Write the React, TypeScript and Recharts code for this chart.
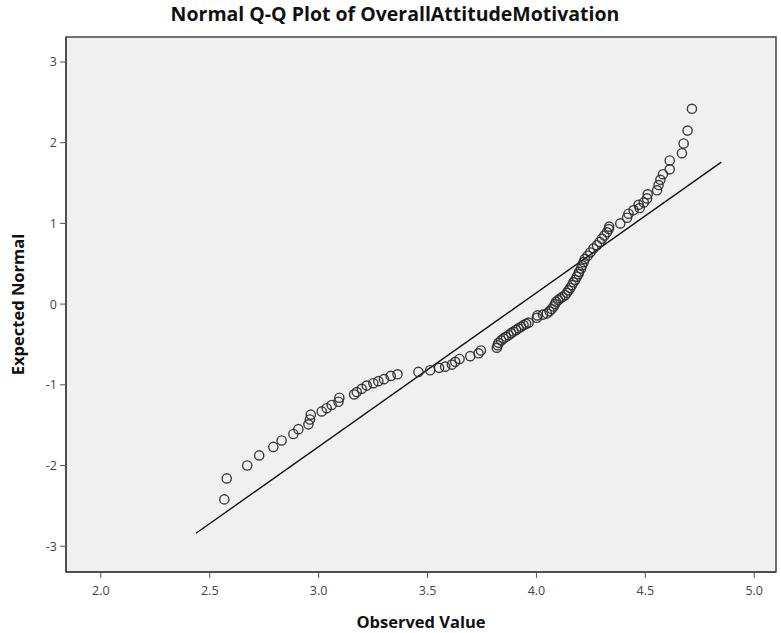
import React from "react";
import {
  ScatterChart,
  Scatter,
  XAxis,
  YAxis,
  ReferenceArea,
  ReferenceLine,
} from "recharts";

const chartTitle = "Normal Q-Q Plot of OverallAttitudeMotivation";
const xAxisLabel = "Observed Value";
const yAxisLabel = "Expected Normal";

const xTicks = [2.0, 2.5, 3.0, 3.5, 4.0, 4.5, 5.0];
const yTicks = [-3, -2, -1, 0, 1, 2, 3];
const xDomain = [1.84, 5.1];
const yDomain = [-3.32, 3.31];

const observed = [
  2.567, 2.578, 2.672, 2.727, 2.792, 2.83, 2.884, 2.907, 2.953, 2.96, 2.964,
  3.014, 3.037, 3.06, 3.091, 3.095, 3.163, 3.175, 3.198, 3.221, 3.251, 3.274,
  3.3, 3.331, 3.362, 3.458, 3.512, 3.553, 3.581, 3.612, 3.627, 3.647, 3.696,
  3.734, 3.745,
  3.818, 3.822, 3.826, 3.838, 3.849, 3.86, 3.872, 3.884, 3.895, 3.907, 3.918,
  3.93, 3.941, 3.953, 3.964, 4.002, 4.005, 4.03, 4.048, 4.06, 4.07, 4.079,
  4.086, 4.09, 4.1, 4.109, 4.12, 4.132, 4.14, 4.147, 4.155, 4.163, 4.17,
  4.178, 4.185, 4.193, 4.196, 4.205, 4.21, 4.217, 4.222, 4.235, 4.247, 4.262,
  4.278, 4.29, 4.301, 4.312, 4.324, 4.332, 4.334,
  4.385, 4.416, 4.423, 4.446, 4.474, 4.469, 4.493, 4.508, 4.511, 4.554,
  4.561, 4.569, 4.581, 4.612, 4.612, 4.668, 4.676, 4.694, 4.714,
];

// expected normal values (y)
const expected = [
  -2.42, -2.16, -2.0, -1.875, -1.77, -1.69, -1.61, -1.55, -1.49, -1.43, -1.37,
  -1.33, -1.29, -1.25, -1.21, -1.16, -1.12, -1.09, -1.05, -1.01, -0.98, -0.955,
  -0.93, -0.89, -0.87, -0.84, -0.82, -0.79, -0.775, -0.75, -0.715, -0.68,
  -0.645, -0.61, -0.575,
  -0.54, -0.51, -0.48, -0.45, -0.425, -0.405, -0.385, -0.36, -0.34, -0.32,
  -0.3, -0.28, -0.26, -0.245, -0.23, -0.17, -0.14, -0.13, -0.115, -0.09,
  -0.06, -0.03, 0.0, 0.03, 0.05, 0.07, 0.09, 0.11, 0.14, 0.17, 0.2, 0.235,
  0.27, 0.3, 0.34, 0.37, 0.4, 0.44, 0.48, 0.52, 0.56, 0.6, 0.64, 0.69, 0.73,
  0.77, 0.81, 0.85, 0.89, 0.93, 0.96,
  1.0, 1.07, 1.12, 1.165, 1.19, 1.23, 1.26, 1.31, 1.36, 1.41, 1.475, 1.54,
  1.61, 1.67, 1.78, 1.87, 1.99, 2.15, 2.42,
];

// reference line endpoints (observed, expected)
const lineX = [2.437, 4.849];
const lineY = [-2.84, 1.76];

const points = observed.map((x, i) => ({ x, y: expected[i] }));

const FONT = "'Open Sans', 'DejaVu Sans', sans-serif";

const Ring = (props: any) => {
  const { cx, cy } = props;
  if (cx == null || cy == null) return null;
  return (
    <circle
      cx={cx}
      cy={cy}
      r={4.6}
      fill="none"
      stroke="#2a2a2a"
      strokeWidth={1.4}
      strokeOpacity={0.9}
    />
  );
};

export default function App() {
  return (
    <div
      style={{
        position: "absolute",
        left: 0,
        top: 0,
        width: 781,
        height: 633,
        background: "#fff",
        fontFamily: FONT,
      }}
    >
      <ScatterChart
        width={781}
        height={633}
        margin={{ top: 37, right: 5, bottom: 0, left: 0 }}
      >
        <text
          x={395}
          y={21}
          textAnchor="middle"
          fontFamily={FONT}
          fontWeight="bold"
          fontSize={19.5}
          fill="#111"
        >
          {chartTitle}
        </text>
        <ReferenceArea
          x1={xDomain[0]}
          x2={xDomain[1]}
          y1={yDomain[0]}
          y2={yDomain[1]}
          fill="#f0f0f0"
          fillOpacity={1}
          stroke="#444"
          strokeWidth={1.5}
          ifOverflow="extendDomain"
        />
        <XAxis
          type="number"
          dataKey="x"
          domain={xDomain}
          ticks={xTicks}
          allowDataOverflow
          height={61}
          tickFormatter={(v: number) => v.toFixed(1)}
          tick={{ fontSize: 12.5, fill: "#444", fontFamily: FONT }}
          tickSize={6}
          tickMargin={8}
          tickLine={{ stroke: "#555" }}
          axisLine={{ stroke: "#444", strokeWidth: 1.5 }}
          label={{
            value: xAxisLabel,
            position: "insideBottom",
            offset: 5,
            fontSize: 16.5,
            fontWeight: "bold",
            fill: "#111",
            fontFamily: FONT,
          }}
        />
        <YAxis
          type="number"
          dataKey="y"
          domain={yDomain}
          ticks={yTicks}
          allowDataOverflow
          width={66}
          tick={{ fontSize: 12.5, fill: "#444", fontFamily: FONT }}
          tickSize={6}
          tickMargin={3}
          tickLine={{ stroke: "#555" }}
          axisLine={{ stroke: "#444", strokeWidth: 1.5 }}
          label={{
            value: yAxisLabel,
            angle: -90,
            position: "insideLeft",
            offset: 18,
            style: { textAnchor: "middle" },
            fontSize: 16.5,
            fontWeight: "bold",
            fill: "#111",
            fontFamily: FONT,
          }}
        />
        <ReferenceLine
          segment={[
            { x: lineX[0], y: lineY[0] },
            { x: lineX[1], y: lineY[1] },
          ]}
          stroke="#111"
          strokeWidth={1.4}
        />
        <Scatter
          data={points}
          shape={Ring}
          isAnimationActive={false}
        />
      </ScatterChart>
    </div>
  );
}
